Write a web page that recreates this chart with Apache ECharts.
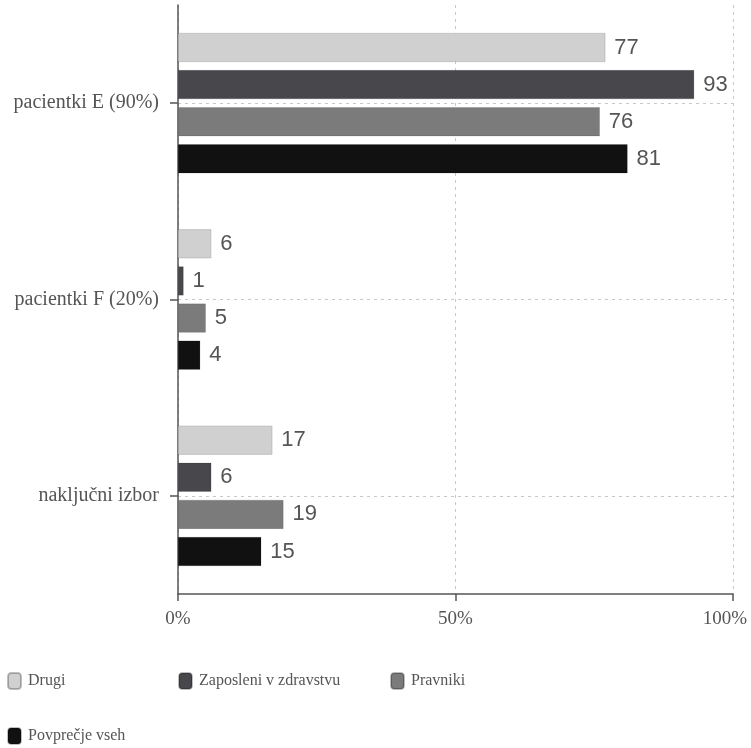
<!DOCTYPE html>
<html>
<head>
<meta charset="utf-8">
<script src="https://cdn.jsdelivr.net/npm/echarts@6/dist/echarts.min.js"></script>
<style>
  html, body { margin: 0; padding: 0; background: #fff; }
  #chart { width: 751px; height: 748px; }
</style>
</head>
<body>
<div id="chart"></div>
<script>
// Groups shown on the category axis (top to bottom)
const categories = ['pacientki E (90%)', 'pacientki F (20%)', 'naključni izbor'];

// Share of respondents per group (%)
const drugi = [77, 6, 17];
const zaposleni = [93, 1, 6];
const pravniki = [76, 5, 19];
const povprecje = [81, 4, 15];

const seriesNames = ['Drugi', 'Zaposleni v zdravstvu', 'Pravniki', 'Povprečje vseh'];
const seriesValues = [drugi, zaposleni, pravniki, povprecje];
const seriesColors = ['#d0d0d0', '#48474c', '#7b7b7b', '#111111'];

const xTicks = [0, 50, 100];

const serif = '"Liberation Serif", "DejaVu Serif", serif';
const sans = '"Liberation Sans", Arial, sans-serif';

const chart = echarts.init(document.getElementById('chart'), null, { renderer: 'canvas' });

// legend entries are laid out on their own, three in the first row, one below
const legendPositions = [
  { left: 7, top: 672 },
  { left: 178, top: 672 },
  { left: 390, top: 672 },
  { left: 7, top: 727 }
];

const option = {
  animation: false,
  backgroundColor: '#ffffff',
  grid: {
    left: 178, right: 18, top: 5, bottom: 154,
    containLabel: false,
    outerBoundsMode: 'none'
  },
  legend: seriesNames.map((name, i) => ({
    data: [name],
    left: legendPositions[i].left,
    top: legendPositions[i].top,
    padding: 0,
    icon: 'roundRect',
    itemWidth: 13,
    itemHeight: 16,
    itemGap: 0,
    selectedMode: false,
    textStyle: {
      fontFamily: serif, fontSize: 16, lineHeight: 16, color: '#555555',
      padding: [0, 0, 0, 2]
    }
  })),
  xAxis: {
    type: 'value',
    min: 0,
    max: 100,
    interval: 50,
    axisLine: { show: true, lineStyle: { color: '#555555', width: 1.5 } },
    axisTick: { show: true, length: 7, lineStyle: { color: '#555555', width: 1.5 } },
    axisLabel: {
      fontFamily: serif, fontSize: 19, color: '#555555', margin: 16,
      // the last label is nudged left so it stays inside the canvas
      formatter: v => {
        if (!xTicks.includes(v)) return '';
        return v === 100 ? '{last|' + v + '%}' : v + '%';
      },
      rich: {
        last: { fontFamily: serif, fontSize: 19, color: '#555555', padding: [0, 16, 0, 0] }
      }
    },
    splitLine: {
      show: true,
      lineStyle: { color: '#c8c8c8', type: [3, 4], width: 1 }
    }
  },
  yAxis: {
    type: 'category',
    data: categories,
    inverse: true,
    axisLine: { show: true, lineStyle: { color: '#555555', width: 1.5 } },
    axisTick: { show: true, alignWithLabel: true, length: 8, lineStyle: { color: '#555555', width: 1.5 } },
    axisLabel: { fontFamily: serif, fontSize: 20, color: '#555555', margin: 19 },
    splitLine: {
      show: true,
      alignWithLabel: true,
      lineStyle: { color: '#c8c8c8', type: [3, 4], width: 1 }
    }
  },
  series: seriesNames.map((name, i) => ({
    name: name,
    type: 'bar',
    data: seriesValues[i],
    barWidth: 29,
    barGap: '28%',
    itemStyle: { color: seriesColors[i], borderColor: 'rgba(0,0,0,0.25)', borderWidth: 0.5 },
    label: {
      show: true,
      position: 'right',
      distance: 9,
      fontFamily: sans,
      fontSize: 22,
      color: '#555555'
    }
  }))
};

chart.setOption(option);
</script>
</body>
</html>
